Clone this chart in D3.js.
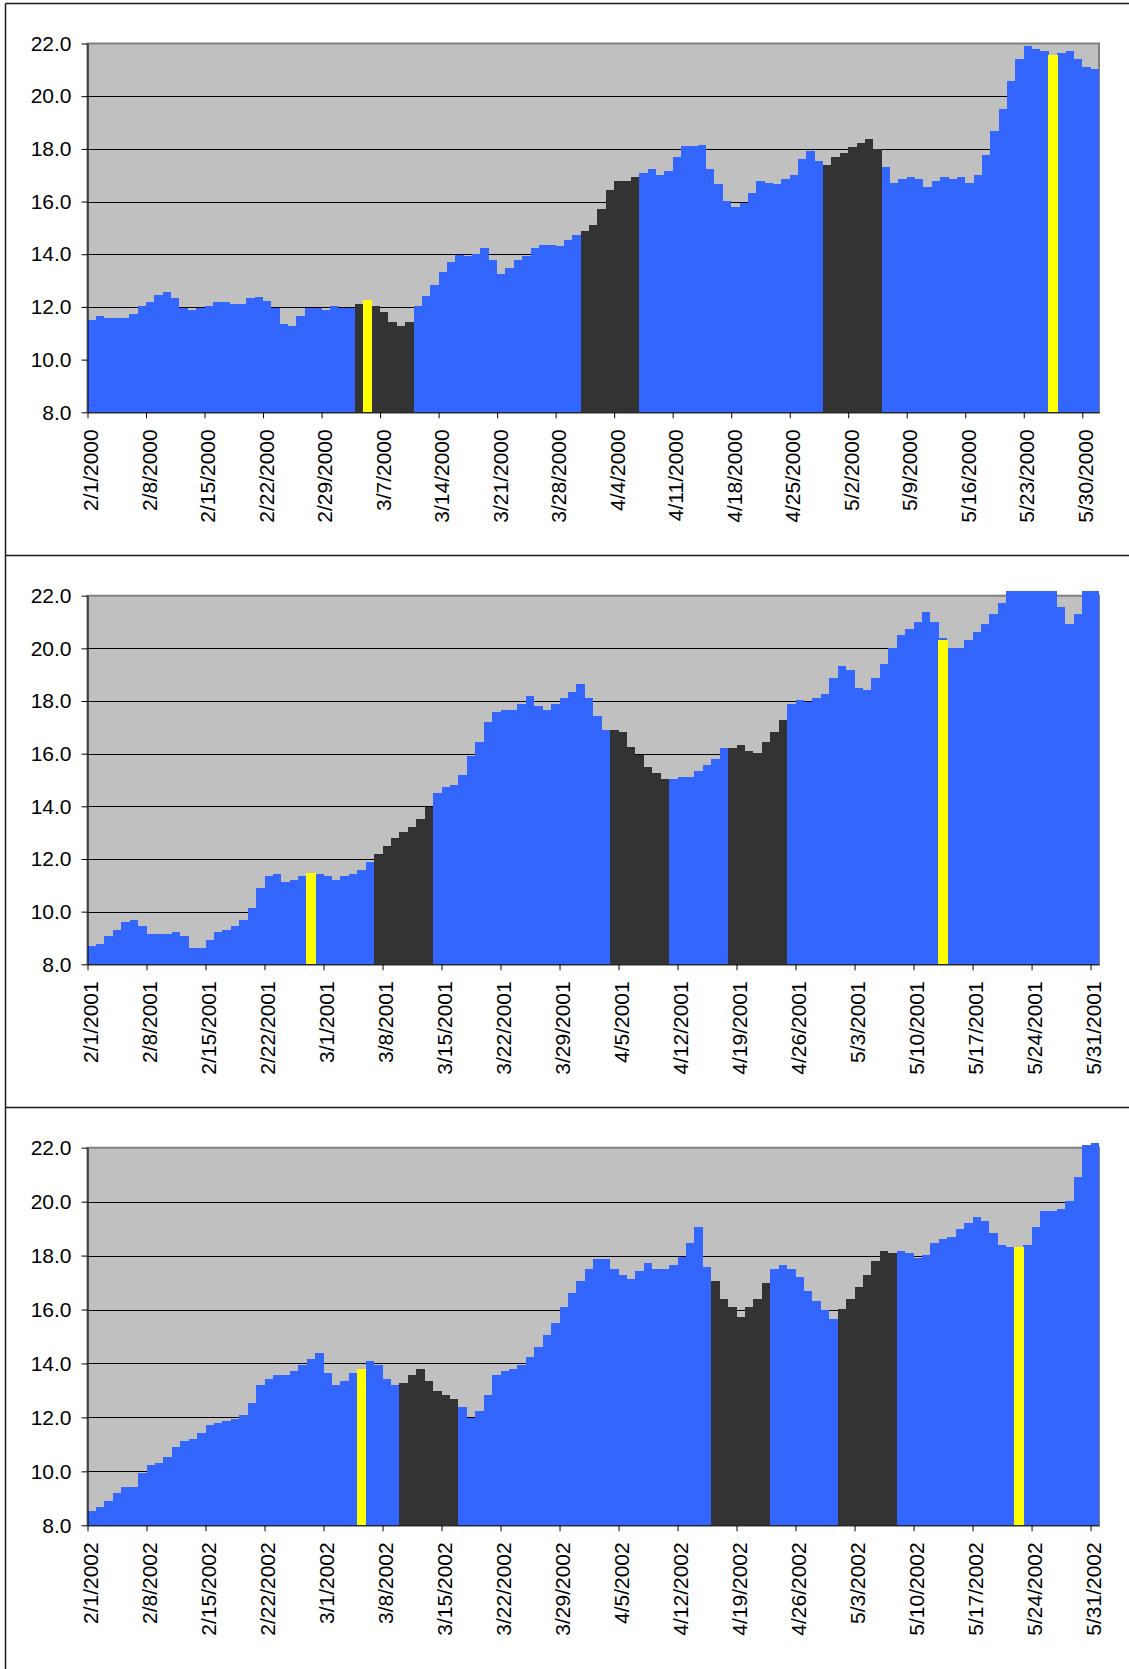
<!DOCTYPE html>
<html>
<head>
<meta charset="utf-8">
<script src="https://cdn.jsdelivr.net/npm/d3@7"></script>
<style>
  html, body { margin: 0; padding: 0; background: #ffffff; }
  svg { display: block; }
</style>
</head>
<body>
<svg id="chart" width="1129" height="1669"></svg>
<script>
// Daily values, Feb 1 .. May 31 of each year
const values2000 = [
  11.50, 11.65, 11.57, 11.57, 11.57, 11.73, 12.04, 12.19, 12.47, 12.55,
  12.32, 11.96, 11.88, 11.96, 12.04, 12.19, 12.19, 12.11, 12.11, 12.32,
  12.39, 12.24, 11.96, 11.34, 11.27, 11.65, 11.96, 11.96, 11.88, 12.04,
  11.96, 11.96, 12.11, 12.27, 12.04, 11.80, 11.42, 11.27, 11.42, 12.04,
  12.41, 12.85, 13.31, 13.69, 13.98, 13.93, 14.01, 14.22, 13.78, 13.24,
  13.47, 13.78, 13.92, 14.22, 14.36, 14.36, 14.31, 14.53, 14.74, 14.90,
  15.12, 15.73, 16.42, 16.79, 16.79, 16.95, 17.09, 17.24, 17.02, 17.17,
  17.70, 18.10, 18.10, 18.15, 17.24, 16.65, 16.04, 15.81, 15.96, 16.34,
  16.79, 16.71, 16.65, 16.86, 17.02, 17.61, 17.92, 17.55, 17.40, 17.70,
  17.85, 18.08, 18.22, 18.37, 17.99, 17.32, 16.71, 16.86, 16.94, 16.86,
  16.56, 16.79, 16.94, 16.86, 16.94, 16.71, 17.02, 17.77, 18.67, 19.50,
  20.57, 21.40, 21.92, 21.80, 21.71, 21.55, 21.64, 21.70, 21.41, 21.10,
  21.03
];
const values2001 = [
  8.70, 8.77, 9.08, 9.30, 9.61, 9.68, 9.46, 9.15, 9.15, 9.15,
  9.23, 9.08, 8.62, 8.62, 8.92, 9.23, 9.30, 9.46, 9.68, 10.14,
  10.89, 11.34, 11.42, 11.11, 11.19, 11.34, 11.48, 11.42, 11.34, 11.19,
  11.34, 11.42, 11.57, 11.87, 12.18, 12.48, 12.78, 13.01, 13.23, 13.53,
  13.99, 14.51, 14.72, 14.80, 15.18, 15.92, 16.46, 17.22, 17.59, 17.67,
  17.67, 17.90, 18.19, 17.82, 17.67, 17.90, 18.11, 18.34, 18.65, 18.13,
  17.44, 16.91, 16.91, 16.84, 16.24, 15.94, 15.48, 15.25, 15.03, 15.03,
  15.10, 15.10, 15.33, 15.56, 15.78, 16.23, 16.23, 16.32, 16.09, 16.01,
  16.46, 16.84, 17.28, 17.90, 18.05, 17.97, 18.13, 18.28, 18.87, 19.32,
  19.18, 18.49, 18.43, 18.87, 19.41, 20.00, 20.52, 20.75, 20.99, 21.37,
  20.99, 20.38, 20.00, 20.00, 20.30, 20.61, 20.91, 21.29, 21.73, 22.18,
  22.18, 22.18, 22.18, 22.18, 22.18, 21.58, 20.91, 21.29, 22.18, 22.18
];
const values2002 = [
  8.54, 8.69, 8.91, 9.21, 9.43, 9.43, 9.95, 10.25, 10.32, 10.55,
  10.90, 11.13, 11.20, 11.42, 11.72, 11.79, 11.87, 11.94, 12.09, 12.53,
  13.20, 13.42, 13.57, 13.57, 13.72, 13.94, 14.17, 14.39, 13.65, 13.20,
  13.35, 13.65, 13.80, 14.09, 13.94, 13.42, 13.20, 13.28, 13.57, 13.80,
  13.35, 12.98, 12.83, 12.68, 12.39, 11.99, 12.24, 12.83, 13.57, 13.72,
  13.80, 13.94, 14.24, 14.61, 15.06, 15.51, 16.08, 16.61, 17.06, 17.50,
  17.87, 17.87, 17.50, 17.28, 17.13, 17.43, 17.72, 17.50, 17.50, 17.65,
  17.95, 18.47, 19.06, 17.58, 17.06, 16.39, 16.09, 15.72, 16.09, 16.39,
  16.98, 17.50, 17.65, 17.50, 17.21, 16.69, 16.32, 15.99, 15.65, 16.02,
  16.39, 16.83, 17.28, 17.80, 18.17, 18.10, 18.17, 18.10, 17.90, 18.02,
  18.47, 18.61, 18.69, 18.98, 19.21, 19.43, 19.28, 18.84, 18.39, 18.32,
  18.32, 18.39, 19.06, 19.65, 19.65, 19.73, 20.02, 20.91, 22.10, 22.17
];

// Week-long stretches drawn in dark grey
const dark2000 = [["3/4/2000", "3/10/2000"], ["3/31/2000", "4/6/2000"], ["4/29/2000", "5/5/2000"]];
const dark2001 = [["3/7/2001", "3/13/2001"], ["4/4/2001", "4/10/2001"], ["4/18/2001", "4/24/2001"]];
const dark2002 = [["3/10/2002", "3/16/2002"], ["4/16/2002", "4/22/2002"], ["5/1/2002", "5/7/2002"]];

// Single highlighted days (yellow)
const yellowDays2000 = ["3/5/2000", "5/26/2000"];
const yellowValues2000 = [12.27, 21.55];
const yellowDays2001 = ["2/27/2001", "5/13/2001"];
const yellowValues2001 = [11.48, 20.30];
const yellowDays2002 = ["3/5/2002", "5/22/2002"];
const yellowValues2002 = [13.80, 18.32];

// Axis labels
const tickLabels2000 = ["2/1/2000", "2/8/2000", "2/15/2000", "2/22/2000", "2/29/2000", "3/7/2000",
  "3/14/2000", "3/21/2000", "3/28/2000", "4/4/2000", "4/11/2000", "4/18/2000", "4/25/2000",
  "5/2/2000", "5/9/2000", "5/16/2000", "5/23/2000", "5/30/2000"];
const tickLabels2001 = ["2/1/2001", "2/8/2001", "2/15/2001", "2/22/2001", "3/1/2001", "3/8/2001",
  "3/15/2001", "3/22/2001", "3/29/2001", "4/5/2001", "4/12/2001", "4/19/2001", "4/26/2001",
  "5/3/2001", "5/10/2001", "5/17/2001", "5/24/2001", "5/31/2001"];
const tickLabels2002 = ["2/1/2002", "2/8/2002", "2/15/2002", "2/22/2002", "3/1/2002", "3/8/2002",
  "3/15/2002", "3/22/2002", "3/29/2002", "4/5/2002", "4/12/2002", "4/19/2002", "4/26/2002",
  "5/3/2002", "5/10/2002", "5/17/2002", "5/24/2002", "5/31/2002"];
const yTicks = [8, 10, 12, 14, 16, 18, 20, 22];

// Layout
const FONT = '"Liberation Sans", Arial, sans-serif';
const COLORS = { blue: "#3366ff", dark: "#333333", yellow: "#ffff00", plot: "#c0c0c0", border: "#808080" };
const plotLeft = 87.5, plotRight = 1099;

const panels = [
  { start: "2/1/2000", end: "5/31/2000", values: values2000, dark: dark2000,
    yDays: yellowDays2000, yVals: yellowValues2000, ticks: tickLabels2000, top: 43.5, bottom: 412.3 },
  { start: "2/1/2001", end: "5/31/2001", values: values2001, dark: dark2001,
    yDays: yellowDays2001, yVals: yellowValues2001, ticks: tickLabels2001, top: 595.7, bottom: 964.3 },
  { start: "2/1/2002", end: "5/31/2002", values: values2002, dark: dark2002,
    yDays: yellowDays2002, yVals: yellowValues2002, ticks: tickLabels2002, top: 1147.7, bottom: 1525.3 }
];

const parse = d3.utcParse("%m/%d/%Y");
const svg = d3.select("#chart");

// Outer frame and panel separators
const frame = svg.append("g").attr("stroke", "#1a1a1a").attr("stroke-width", 1.5).attr("fill", "none");
frame.append("line").attr("x1", 5.5).attr("x2", 5.5).attr("y1", 3.5).attr("y2", 1669);
[3.5, 555.5, 1107.5].forEach(yy => {
  frame.append("line").attr("x1", 5.5).attr("x2", 1129).attr("y1", yy).attr("y2", yy);
});

panels.forEach(p => {
  const first = parse(p.start);
  const afterLast = d3.utcDay.offset(parse(p.end), 1);
  const days = d3.utcDay.range(first, afterLast);

  const x = d3.scaleUtc().domain([first, afterLast]).range([plotLeft, plotRight]);
  const y = d3.scaleLinear().domain([8, 22]).range([p.bottom, p.top]);
  const dayWidth = d => x(d3.utcDay.offset(d, 1)) - x(d);

  const darkRanges = p.dark.map(([a, b]) => [parse(a), parse(b)]);
  const isDark = d => darkRanges.some(([a, b]) => d >= a && d <= b);

  const rows = days.map((d, i) => ({ day: d, value: p.values[i], dark: isDark(d) }));

  const g = svg.append("g");

  // Plot area
  g.append("rect")
    .attr("x", plotLeft).attr("y", y(22))
    .attr("width", plotRight - plotLeft).attr("height", y(8) - y(22))
    .attr("fill", COLORS.plot).attr("stroke", COLORS.border).attr("stroke-width", 2);

  // Horizontal gridlines
  g.append("g").selectAll("line")
    .data(yTicks.filter(v => v > 8 && v < 22))
    .join("line")
    .attr("x1", plotLeft).attr("x2", plotRight)
    .attr("y1", d => Math.round(y(d)) + 0.5).attr("y2", d => Math.round(y(d)) + 0.5)
    .attr("stroke", "#000").attr("stroke-width", 1);

  // Daily bars
  g.append("g").selectAll("rect")
    .data(rows)
    .join("rect")
    .attr("x", d => x(d.day))
    .attr("width", d => dayWidth(d.day))
    .attr("y", d => y(d.value))
    .attr("height", d => y(8) - y(d.value))
    .attr("fill", d => d.dark ? COLORS.dark : COLORS.blue)
    .attr("shape-rendering", "crispEdges");

  // Highlighted days
  const yellowRows = p.yDays.map((s, i) => ({ day: parse(s), value: p.yVals[i] }));
  g.append("g").selectAll("rect")
    .data(yellowRows)
    .join("rect")
    .attr("x", d => x(d.day) - 0.6)
    .attr("width", d => dayWidth(d.day) + 1.2)
    .attr("y", d => y(d.value))
    .attr("height", d => y(8) - y(d.value))
    .attr("fill", COLORS.yellow)
    .attr("shape-rendering", "crispEdges");

  // Value axis
  const yAxis = d3.axisLeft(y)
    .tickValues(yTicks)
    .tickFormat(d3.format(".1f"))
    .tickSize(6).tickSizeOuter(0).tickPadding(10);
  const ya = g.append("g").attr("transform", `translate(${plotLeft},0)`).call(yAxis);
  ya.attr("font-family", FONT).attr("font-size", 21);
  ya.selectAll("path, line").attr("stroke", "#000");
  ya.selectAll("text").attr("fill", "#000");

  // Date axis with weekly labels, rotated
  const tickDates = p.ticks.map(parse);
  const xAxis = d3.axisBottom(x)
    .tickValues(tickDates)
    .tickFormat((d, i) => p.ticks[i])
    .tickSize(6).tickSizeOuter(0);
  const xa = g.append("g").attr("transform", `translate(0,${p.bottom})`).call(xAxis);
  xa.attr("font-family", FONT).attr("font-size", 21);
  xa.selectAll("path, line").attr("stroke", "#000");
  xa.selectAll("text")
    .attr("fill", "#000")
    .attr("transform", "rotate(-90)")
    .attr("text-anchor", "end")
    .attr("x", -17)
    .attr("y", 10)
    .attr("dy", 0);
});
</script>
</body>
</html>
